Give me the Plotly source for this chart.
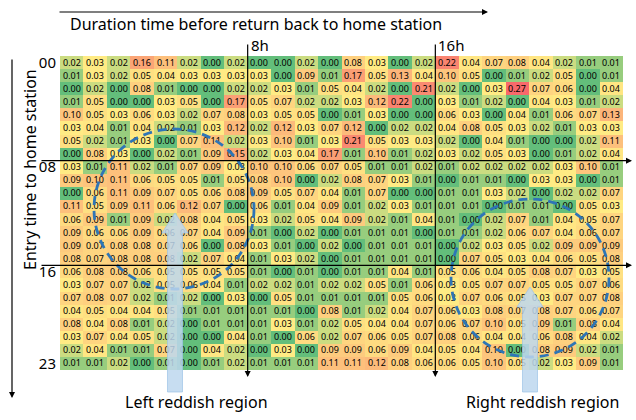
import numpy as np
import plotly.graph_objects as go

# Return-ratio matrix: rows = entry hour (00..23), columns = duration hours before return (0..23)
rows = [
    [0.02, 0.03, 0.02, 0.16, 0.11, 0.02, 0.00, 0.02, 0.00, 0.00, 0.02, 0.00, 0.08, 0.03, 0.00, 0.02, 0.22, 0.04, 0.07, 0.08, 0.04, 0.02, 0.01, 0.01],
    [0.01, 0.03, 0.02, 0.05, 0.04, 0.03, 0.03, 0.03, 0.03, 0.00, 0.09, 0.01, 0.17, 0.05, 0.13, 0.04, 0.10, 0.05, 0.00, 0.01, 0.02, 0.05, 0.00, 0.01],
    [0.00, 0.02, 0.00, 0.08, 0.01, 0.00, 0.00, 0.02, 0.02, 0.03, 0.01, 0.05, 0.04, 0.02, 0.00, 0.21, 0.02, 0.00, 0.03, 0.27, 0.07, 0.06, 0.00, 0.04],
    [0.01, 0.05, 0.00, 0.00, 0.03, 0.05, 0.00, 0.17, 0.05, 0.07, 0.02, 0.02, 0.03, 0.12, 0.22, 0.00, 0.03, 0.01, 0.02, 0.00, 0.04, 0.03, 0.01, 0.02],
    [0.10, 0.05, 0.03, 0.06, 0.03, 0.02, 0.07, 0.08, 0.03, 0.05, 0.05, 0.00, 0.01, 0.03, 0.00, 0.00, 0.06, 0.03, 0.00, 0.04, 0.01, 0.06, 0.07, 0.13],
    [0.03, 0.04, 0.01, 0.04, 0.02, 0.01, 0.03, 0.12, 0.02, 0.12, 0.03, 0.07, 0.12, 0.00, 0.02, 0.02, 0.04, 0.08, 0.05, 0.03, 0.02, 0.01, 0.03, 0.03],
    [0.05, 0.02, 0.01, 0.03, 0.00, 0.07, 0.11, 0.02, 0.03, 0.10, 0.01, 0.03, 0.21, 0.05, 0.03, 0.03, 0.02, 0.00, 0.04, 0.01, 0.00, 0.00, 0.02, 0.11],
    [0.00, 0.08, 0.03, 0.00, 0.02, 0.01, 0.09, 0.15, 0.02, 0.03, 0.04, 0.17, 0.01, 0.10, 0.01, 0.02, 0.03, 0.02, 0.05, 0.03, 0.00, 0.01, 0.02, 0.04],
    [0.03, 0.01, 0.11, 0.02, 0.01, 0.07, 0.09, 0.03, 0.10, 0.10, 0.06, 0.07, 0.05, 0.01, 0.01, 0.02, 0.01, 0.02, 0.02, 0.02, 0.02, 0.03, 0.10, 0.01],
    [0.09, 0.10, 0.11, 0.06, 0.05, 0.05, 0.01, 0.05, 0.08, 0.10, 0.00, 0.02, 0.08, 0.07, 0.03, 0.01, 0.00, 0.01, 0.01, 0.00, 0.03, 0.03, 0.00, 0.01],
    [0.00, 0.06, 0.11, 0.09, 0.07, 0.05, 0.06, 0.08, 0.09, 0.05, 0.07, 0.04, 0.01, 0.07, 0.00, 0.00, 0.01, 0.01, 0.03, 0.02, 0.00, 0.02, 0.02, 0.07],
    [0.11, 0.05, 0.09, 0.11, 0.06, 0.12, 0.07, 0.00, 0.06, 0.01, 0.04, 0.09, 0.01, 0.02, 0.03, 0.01, 0.01, 0.01, 0.00, 0.01, 0.01, 0.00, 0.05, 0.03],
    [0.06, 0.09, 0.01, 0.09, 0.02, 0.08, 0.04, 0.05, 0.03, 0.02, 0.05, 0.04, 0.09, 0.02, 0.01, 0.04, 0.01, 0.00, 0.02, 0.07, 0.01, 0.04, 0.05, 0.07],
    [0.09, 0.06, 0.06, 0.09, 0.06, 0.07, 0.04, 0.09, 0.01, 0.00, 0.02, 0.00, 0.01, 0.01, 0.01, 0.00, 0.01, 0.01, 0.02, 0.06, 0.07, 0.04, 0.06, 0.07],
    [0.09, 0.07, 0.08, 0.08, 0.07, 0.06, 0.00, 0.08, 0.03, 0.01, 0.00, 0.02, 0.00, 0.01, 0.01, 0.01, 0.00, 0.02, 0.03, 0.05, 0.02, 0.09, 0.09, 0.09],
    [0.08, 0.07, 0.08, 0.08, 0.08, 0.02, 0.07, 0.04, 0.01, 0.03, 0.02, 0.00, 0.01, 0.01, 0.01, 0.01, 0.00, 0.07, 0.05, 0.03, 0.04, 0.06, 0.05, 0.08],
    [0.06, 0.08, 0.08, 0.06, 0.05, 0.05, 0.05, 0.05, 0.01, 0.00, 0.01, 0.00, 0.01, 0.01, 0.04, 0.01, 0.05, 0.06, 0.04, 0.05, 0.08, 0.07, 0.03, 0.05],
    [0.03, 0.07, 0.07, 0.02, 0.05, 0.06, 0.04, 0.01, 0.02, 0.02, 0.01, 0.02, 0.02, 0.05, 0.01, 0.06, 0.03, 0.05, 0.07, 0.07, 0.05, 0.05, 0.07, 0.06],
    [0.07, 0.08, 0.07, 0.02, 0.01, 0.02, 0.00, 0.03, 0.00, 0.05, 0.01, 0.01, 0.01, 0.01, 0.05, 0.06, 0.03, 0.07, 0.06, 0.05, 0.03, 0.07, 0.07, 0.08],
    [0.04, 0.05, 0.04, 0.04, 0.05, 0.01, 0.01, 0.01, 0.01, 0.01, 0.00, 0.08, 0.01, 0.02, 0.04, 0.07, 0.06, 0.03, 0.08, 0.07, 0.08, 0.07, 0.06, 0.07],
    [0.08, 0.04, 0.08, 0.01, 0.02, 0.00, 0.01, 0.01, 0.01, 0.03, 0.01, 0.02, 0.05, 0.04, 0.04, 0.07, 0.06, 0.07, 0.10, 0.05, 0.09, 0.01, 0.08, 0.04],
    [0.03, 0.07, 0.04, 0.05, 0.02, 0.00, 0.00, 0.04, 0.01, 0.00, 0.06, 0.02, 0.07, 0.06, 0.05, 0.07, 0.08, 0.06, 0.04, 0.04, 0.06, 0.08, 0.04, 0.02],
    [0.02, 0.04, 0.01, 0.01, 0.07, 0.00, 0.04, 0.02, 0.00, 0.03, 0.00, 0.09, 0.09, 0.06, 0.09, 0.04, 0.05, 0.04, 0.10, 0.00, 0.08, 0.09, 0.02, 0.01],
    [0.01, 0.01, 0.02, 0.00, 0.01, 0.00, 0.01, 0.02, 0.01, 0.01, 0.01, 0.11, 0.11, 0.12, 0.08, 0.06, 0.06, 0.05, 0.10, 0.05, 0.02, 0.03, 0.09, 0.01],
]
entry_hours = list(range(24))
duration_hours = list(range(24))
row_tick_vals = [0, 8, 16, 23]
row_tick_text = ["00", "08", "16", "23"]
col_marks = [8, 16]
col_mark_text = ["8h", "16h"]

z = np.array(rows)

# three-colour scale: green (min) -> yellow (median) -> red (max)
zmin, zmax = float(z.min()), float(z.max())
mid = (float(np.median(z)) - zmin) / (zmax - zmin)
colorscale = [[0.0, "#63BE7B"], [mid, "#FFEB84"], [1.0, "#F8696B"]]

FONT = "Noto Sans"

fig = go.Figure(go.Heatmap(
    z=z, x=duration_hours, y=entry_hours,
    zmin=zmin, zmax=zmax, colorscale=colorscale, showscale=False,
    texttemplate="%{z:.2f}", textfont=dict(size=9, color="black", family=FONT),
    hoverinfo="skip",
))

# plot-area edges in pixels
W_FIG, H_FIG = 636, 420
L, R, T, B = 60, 623, 56, 370


def px(x):
    return (x - L) / (R - L)


def py(y):
    return (B - y) / (B - T)


shapes = []
annotations = []


def label(x, y, text, size=15, xanchor="center", xref="paper", angle=0, xshift=0):
    annotations.append(dict(x=x, y=py(y), xref=xref, yref="paper", text=text,
                            showarrow=False, xanchor=xanchor, yanchor="middle",
                            textangle=angle, xshift=xshift,
                            font=dict(size=size, color="black", family=FONT)))


def arrow(x, y, ax, ay, xref="paper", yref="paper"):
    annotations.append(dict(x=x, y=y, xref=xref, yref=yref, ax=ax, ay=ay, text="",
                            showarrow=True, arrowhead=2, arrowsize=1, arrowwidth=1.2,
                            arrowcolor="black"))


# hour-boundary guide lines with arrowheads
for c, lab in zip(col_marks, col_mark_text):
    arrow(c - 0.5, py(377), 0, -334, xref="x")
    label(c - 0.5, 45, lab, xanchor="left", xref="x", xshift=1)
for r in row_tick_vals[1:3]:
    arrow(px(632), r - 0.5, -592, 0, yref="y")

# axis-direction arrows
arrow(px(488), py(12), -430, 0)
arrow(px(12), py(398), 0, -340)

label(px(68), 24, "Duration time before return back to home station", size=16, xanchor="left")
label(px(30), 170, "Entry time to home station", size=16, angle=-90)

# highlighted regions
for cx, cy, rad in [(174, 209, 80), (530, 278, 79)]:
    shapes.append(dict(type="circle", xref="paper", yref="paper",
                       x0=px(cx - rad), x1=px(cx + rad), y0=py(cy + rad), y1=py(cy - rad),
                       line=dict(color="#2E75B6", width=2.8, dash="9px,6px")))


def block_arrow(cx, tip, base=392, shaft=15, head=26, head_len=20):
    pts = [(cx - shaft / 2, base), (cx - shaft / 2, tip + head_len), (cx - head / 2, tip + head_len),
           (cx, tip), (cx + head / 2, tip + head_len), (cx + shaft / 2, tip + head_len),
           (cx + shaft / 2, base)]
    d = "M " + " L ".join(f"{px(x):.5f},{py(y):.5f}" for x, y in pts) + " Z"
    return dict(type="path", xref="paper", yref="paper", path=d,
                fillcolor="rgba(189,215,238,0.85)", line=dict(color="rgba(157,195,230,0.9)", width=0.8))


shapes.append(block_arrow(175, 213))
shapes.append(block_arrow(530, 287))

label(px(196), 402, "Left reddish region", size=16)
label(px(542), 402, "Right reddish region", size=16)

fig.update_layout(
    width=W_FIG, height=H_FIG,
    margin=dict(l=L, r=W_FIG - R, t=T, b=H_FIG - B, pad=0),
    paper_bgcolor="white", plot_bgcolor="white",
    xaxis=dict(range=[-0.5, 23.5], showticklabels=False, showgrid=False,
               zeroline=False, ticks=""),
    yaxis=dict(range=[23.5, -0.5], tickvals=row_tick_vals, ticktext=row_tick_text,
               showgrid=False, zeroline=False, ticks="", ticklabelstandoff=3,
               tickfont=dict(size=15, color="black", family=FONT)),
    shapes=shapes, annotations=annotations,
    font=dict(family=FONT),
)

fig.write_html("out.html")
